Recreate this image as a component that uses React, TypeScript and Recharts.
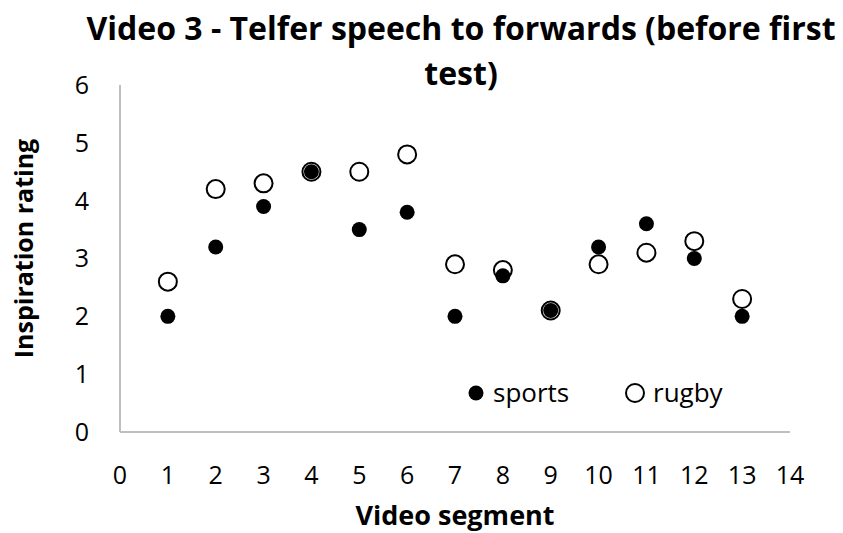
import { ScatterChart, Scatter, XAxis, YAxis } from "recharts";

const segments = [1, 2, 3, 4, 5, 6, 7, 8, 9, 10, 11, 12, 13];
const sportsRatings = [2.0, 3.2, 3.9, 4.5, 3.5, 3.8, 2.0, 2.7, 2.1, 3.2, 3.6, 3.0, 2.0];
const rugbyRatings = [2.6, 4.2, 4.3, 4.5, 4.5, 4.8, 2.9, 2.8, 2.1, 2.9, 3.1, 3.3, 2.3];
const xTicks = [0, 1, 2, 3, 4, 5, 6, 7, 8, 9, 10, 11, 12, 13, 14];
const yTicks = [0, 1, 2, 3, 4, 5, 6];

const sportsData = segments.map((s, i) => ({ x: s, y: sportsRatings[i] }));
const rugbyData = segments.map((s, i) => ({ x: s, y: rugbyRatings[i] }));

const FONT = "'Open Sans', sans-serif";

const FilledDot = (props: any) => (
  <circle cx={props.cx} cy={props.cy} r={7.5} fill="#000" />
);

const OpenDot = (props: any) => (
  <circle cx={props.cx} cy={props.cy} r={9} fill="#fff" stroke="#000" strokeWidth={2} />
);

// legend drawn as an overlay so it doesn't shrink the plot area
const LegendOverlay = () => (
  <div
    style={{
      position: "absolute",
      left: 457,
      top: 370,
      width: 300,
      height: 30,
      fontFamily: FONT,
      fontSize: 26,
      color: "#000",
    }}
  >
    <svg width={300} height={30} style={{ position: "absolute", left: 0, top: 0 }}>
      <circle cx={11} cy={15} r={7.5} fill="#000" />
      <circle cx={170} cy={15} r={9} fill="#fff" stroke="#000" strokeWidth={2} />
    </svg>
    <span style={{ position: "absolute", left: 28, top: -4, lineHeight: "36px" }}>sports</span>
    <span style={{ position: "absolute", left: 188, top: -4, lineHeight: "36px" }}>rugby</span>
  </div>
);

const App = () => {
  return (
    <div style={{ position: "relative", width: 835, height: 525 }}>
      <div
        style={{
          position: "absolute",
          left: 53,
          top: -3,
          width: 800,
          textAlign: "center",
          fontFamily: FONT,
          fontWeight: 700,
          fontSize: 32,
          lineHeight: "45px",
          whiteSpace: "nowrap",
          color: "#000",
        }}
      >
        Video 3 - Telfer speech to forwards (before first
        <br />
        test)
      </div>
      <ScatterChart
        width={835}
        height={525}
        margin={{ top: 77, right: 53, left: 0, bottom: 0 }}
      >
        <XAxis
          type="number"
          dataKey="x"
          domain={[0, 14]}
          ticks={xTicks}
          interval={0}
          height={101}
          axisLine={{ stroke: "#bfbfbf", strokeWidth: 2 }}
          tickLine={false}
          tick={{ fill: "#000", fontSize: 25, fontFamily: FONT }}
          tickMargin={28}
          label={{
            value: "Video segment",
            position: "insideBottom",
            offset: 8,
            fill: "#000",
            fontSize: 27,
            fontWeight: 700,
            fontFamily: FONT,
          }}
        />
        <YAxis
          type="number"
          dataKey="y"
          domain={[0, 6]}
          ticks={yTicks}
          interval={0}
          width={112}
          axisLine={{ stroke: "#bfbfbf", strokeWidth: 2 }}
          tickLine={false}
          tick={{ fill: "#000", fontSize: 25, fontFamily: FONT }}
          tickMargin={25}
          label={({ viewBox }: any) => {
            const lx = viewBox.x + 25;
            const ly = viewBox.y + viewBox.height / 2 - 10;
            return (
              <g transform={`translate(${lx}, ${ly}) rotate(-90)`}>
                <text
                  x={0}
                  y={0}
                  textAnchor="middle"
                  fill="#000"
                  fontSize={25}
                  fontWeight={700}
                  fontFamily={FONT}
                >
                  Inspiration rating
                </text>
              </g>
            );
          }}
        />
        <Scatter name="rugby" data={rugbyData} shape={OpenDot} isAnimationActive={false} />
        <Scatter name="sports" data={sportsData} shape={FilledDot} isAnimationActive={false} />
      </ScatterChart>
      <LegendOverlay />
    </div>
  );
};

export default App;
